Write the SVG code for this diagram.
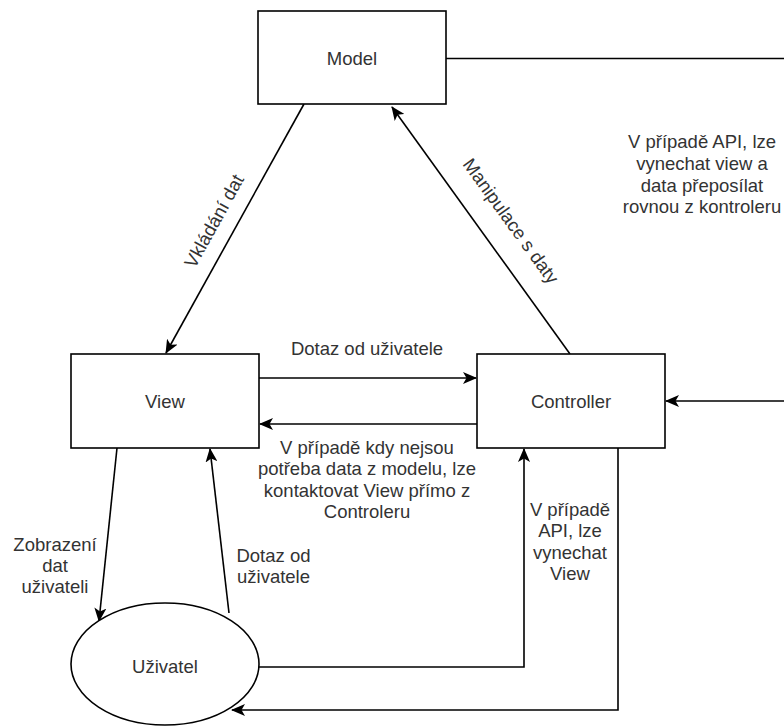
<svg xmlns="http://www.w3.org/2000/svg" width="784" height="726" viewBox="0 0 784 726">
  <style>
    .shape { fill: #ffffff; stroke: #000000; stroke-width: 1.6; }
    .edge { fill: none; stroke: #000000; stroke-width: 1.6; }
    .arrow { marker-end: url(#head); }
    text { font-family: "Liberation Sans", Arial, sans-serif; font-size: 18.5px; fill: #333333; text-anchor: middle; }
  </style>
  <defs>
    <marker id="head" markerUnits="userSpaceOnUse" markerWidth="14" markerHeight="12" viewBox="0 0 14 12" refX="13" refY="6" orient="auto">
      <path d="M0,0 L14,6 L0,12 L3.5,6 Z" fill="#000000"/>
    </marker>
  </defs>

  <rect width="784" height="726" fill="#ffffff"/>

  <!-- connectors -->
  <g id="connectors">
    <!-- Model to right edge -->
    <path class="edge" d="M446,58.5 L784,58.5"/>
    <!-- right edge into Controller -->
    <path class="edge arrow" d="M784,401 L666,401"/>
    <!-- Model -> View -->
    <path class="edge arrow" d="M304,104 L166,353"/>
    <!-- Controller -> Model -->
    <path class="edge arrow" d="M570,354 L392,107"/>
    <!-- View -> Controller -->
    <path class="edge arrow" d="M259,378 L476,378"/>
    <!-- Controller -> View -->
    <path class="edge arrow" d="M477,424 L260,424"/>
    <!-- View -> Uživatel -->
    <path class="edge arrow" d="M117,448 L99,621"/>
    <!-- Uživatel -> View -->
    <path class="edge arrow" d="M229,613 L210,449"/>
    <!-- Uživatel -> Controller -->
    <path class="edge arrow" d="M259,667 L524,667 L524,449"/>
    <!-- Controller -> Uživatel -->
    <path class="edge arrow" d="M618,448 L618,710 L232,710"/>

    <text x="367" y="355">Dotaz od uživatele</text>
    <text x="367" y="453.5">V případě kdy nejsou</text>
    <text x="367" y="475">potřeba data z modelu, lze</text>
    <text x="367" y="496.7">kontaktovat View přímo z</text>
    <text x="367" y="518.3">Controleru</text>

    <text x="55" y="551">Zobrazení</text>
    <text x="55" y="572">dat</text>
    <text x="55" y="593.3">uživateli</text>

    <text x="273.5" y="561.7">Dotaz od</text>
    <text x="273.5" y="582.7">uživatele</text>

    <text x="570" y="516">V případě</text>
    <text x="570" y="537.3">API, lze</text>
    <text x="570" y="559">vynechat</text>
    <text x="570" y="580">View</text>

    <text x="702" y="148.3">V případě API, lze</text>
    <text x="702" y="170">vynechat view a</text>
    <text x="702" y="191.7">data přeposílat</text>
    <text x="702" y="213.3">rovnou z kontroleru</text>

    <text transform="translate(214,221) rotate(-61.1)" x="0" y="6.5">Vkládání dat</text>
    <text transform="translate(511,221) rotate(54.2)" x="0" y="6.5">Manipulace s daty</text>
  </g>

  <!-- nodes -->
  <g id="model">
    <rect class="shape" x="258" y="11" width="188" height="93"/>
    <text x="352" y="65">Model</text>
  </g>
  <g id="view">
    <rect class="shape" x="71" y="354" width="188" height="94"/>
    <text x="165" y="408">View</text>
  </g>
  <g id="controller">
    <rect class="shape" x="477" y="354" width="188" height="94"/>
    <text x="571" y="408">Controller</text>
  </g>
  <g id="uzivatel">
    <ellipse class="shape" cx="165" cy="664" rx="94" ry="61"/>
    <text x="165" y="673">Uživatel</text>
  </g>
</svg>
